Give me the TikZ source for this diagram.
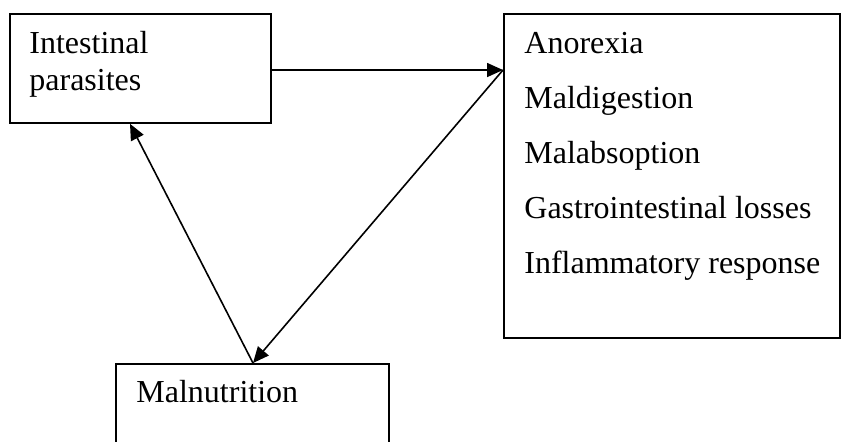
\documentclass[tikz,border=0pt]{standalone}
\usepackage{fontspec}
\setmainfont{Liberation Serif}
\usetikzlibrary{arrows.meta,calc}
\begin{document}
\begin{tikzpicture}[x=0.5pt,y=-0.5pt,
  box/.style={draw,line width=0.9pt,rectangle,inner sep=0pt,anchor=north west},
  lbl/.style={anchor=base west,inner sep=0pt,font=\fontsize{16}{19}\selectfont},
  conn/.style={line width=0.8pt,-{Triangle[length=8pt,width=7pt]}}]
\useasboundingbox (0,0) rectangle (841,441);
\clip (0,0) rectangle (841,441);
\fill[white] (0,0) rectangle (841,441);
% boxes
\node[box,minimum width=130.5pt,minimum height=54.5pt] (b1) at (9,13) {};
\node[box,minimum width=168pt,minimum height=162pt] (b2) at (503,13) {};
\node[box,minimum width=136.5pt,minimum height=60pt] (b3) at (115,363) {};
% labels
\node[lbl] (t1a) at (29,53) {Intestinal};
\node[lbl] (t1b) at (29,90) {parasites};
\node[lbl] (t2a) at (524,53) {Anorexia};
\node[lbl] (t2b) at (524,108) {Maldigestion};
\node[lbl] (t2c) at (524,163) {Malabsoption};
\node[lbl] (t2d) at (524,218) {Gastrointestinal losses};
\node[lbl] (t2e) at (524,273) {Inflammatory response};
\node[lbl] (t3) at (136,402) {Malnutrition};
% connection points
\coordinate (c1) at ($(b1.north east)+(0,57)$);
\coordinate (c2) at ($(b2.north west)+(0,57)$);
\coordinate (c3) at ($(b3.north west)+(138,0)$);
\coordinate (c4) at ($(b1.south west)+(121,0)$);
% connectors
\draw[conn] (c1) -- (c2);
\draw[conn] (c2) -- (c3);
\draw[conn] (c3) -- (c4);
\end{tikzpicture}
\end{document}
